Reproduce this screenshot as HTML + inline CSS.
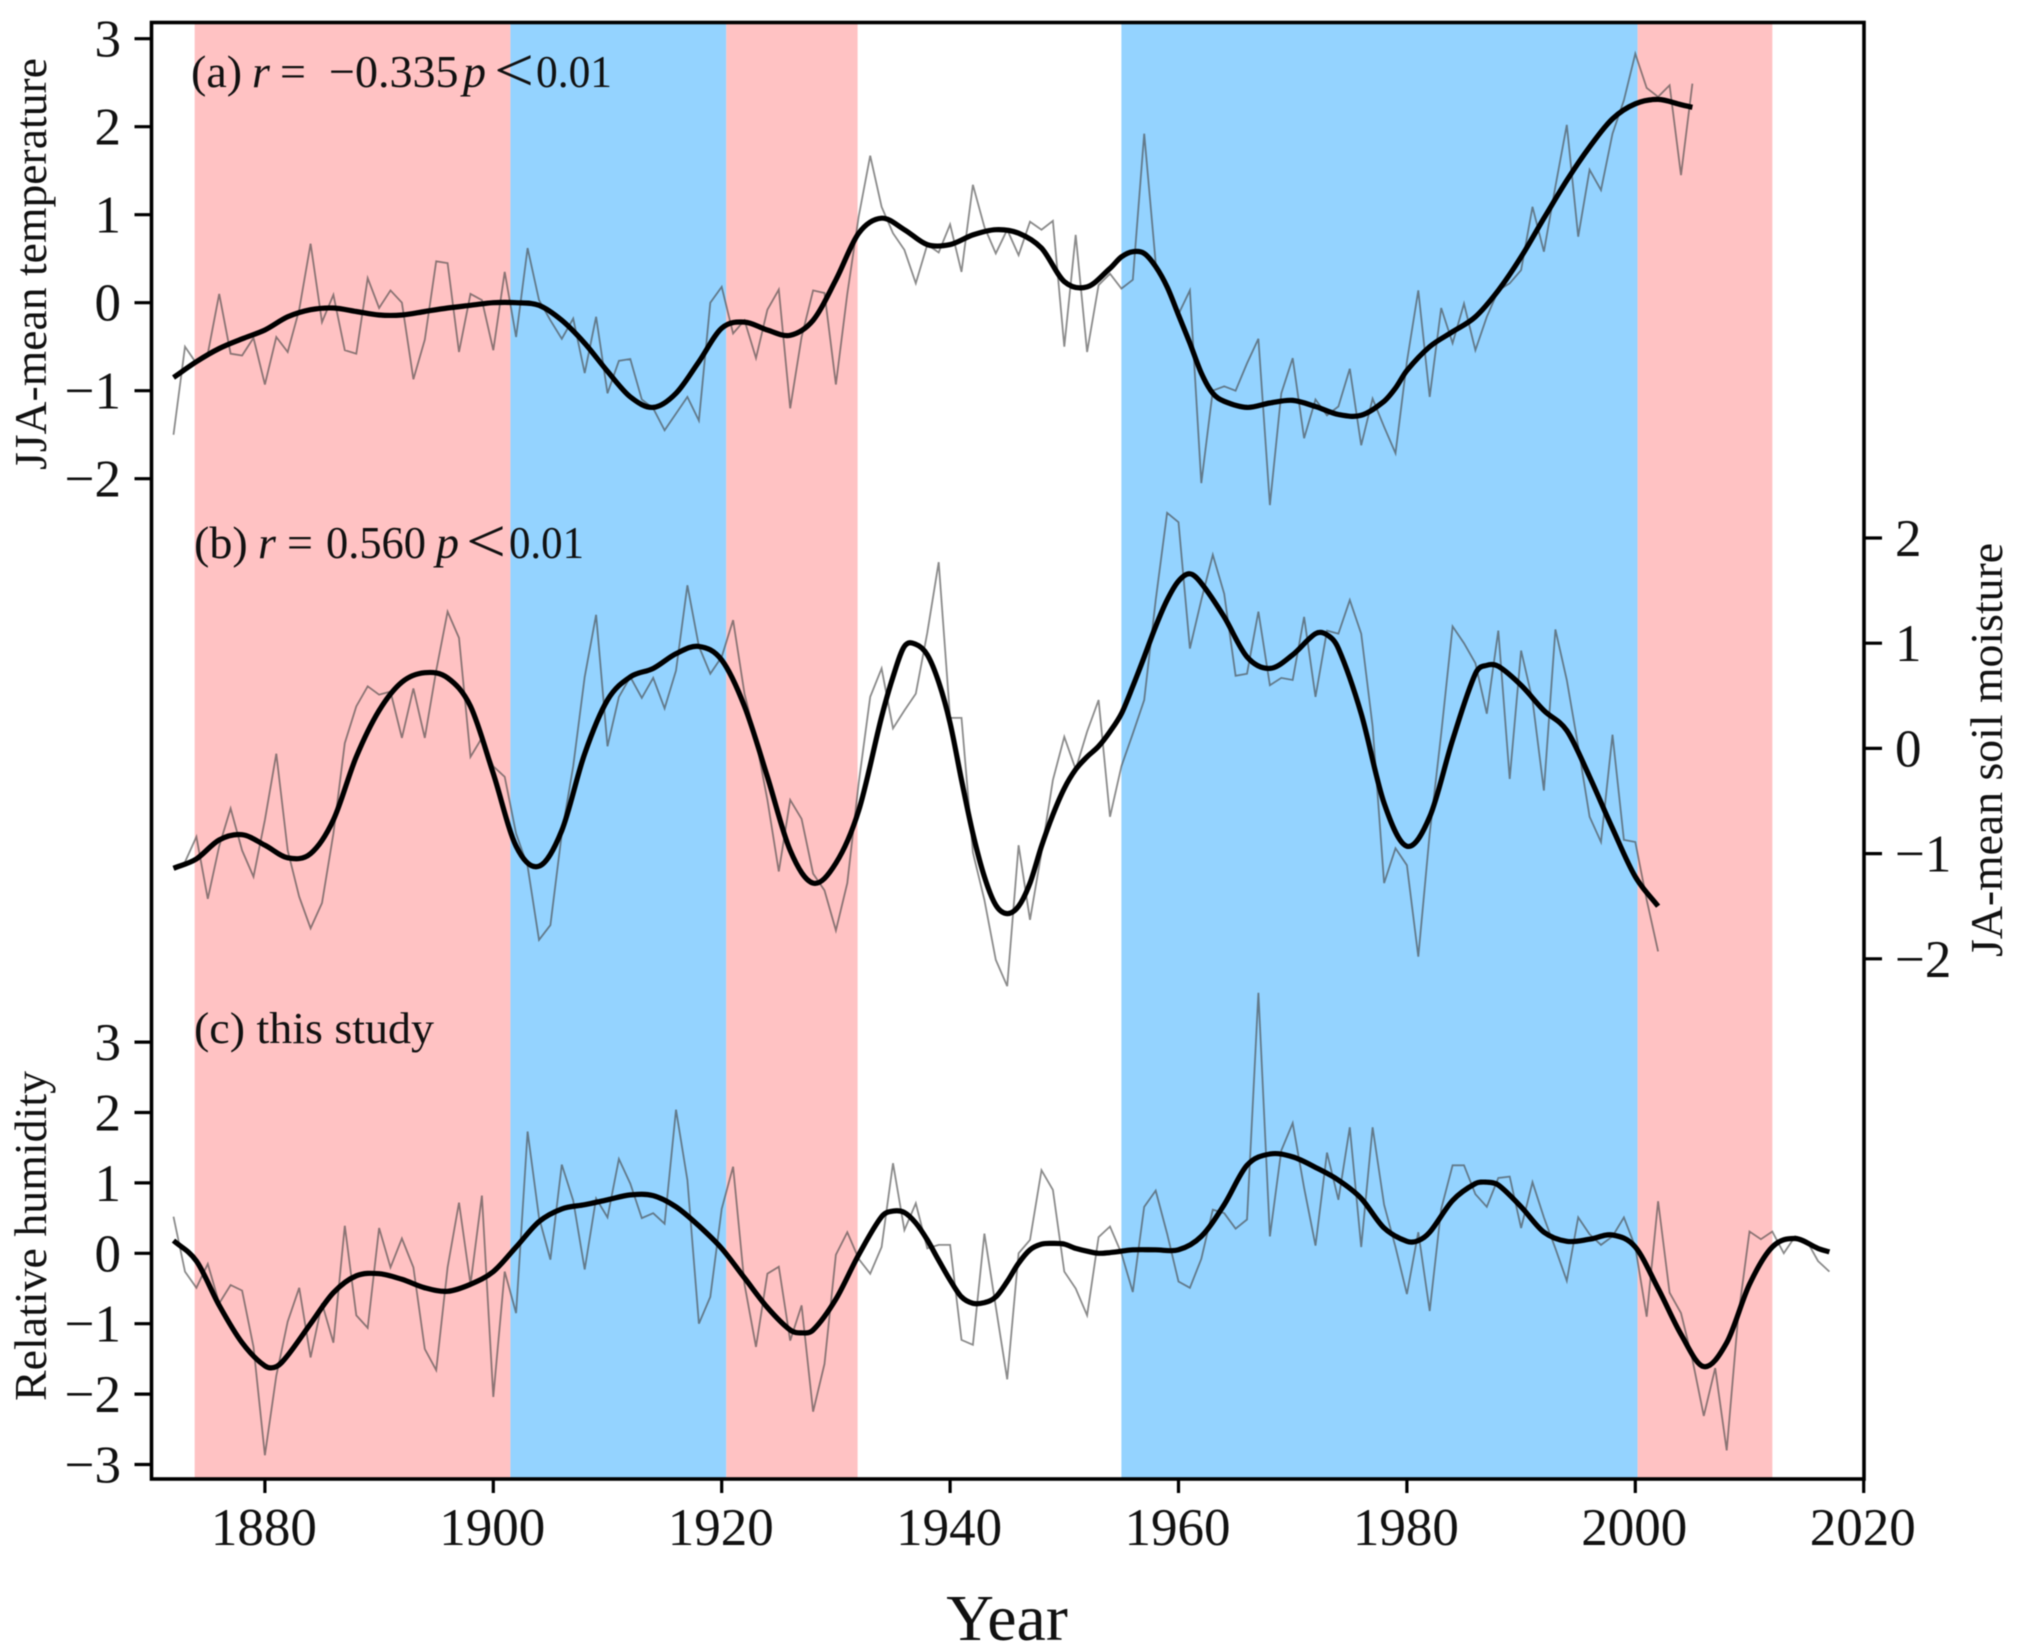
<!DOCTYPE html>
<html lang="en">
<head>
<meta charset="utf-8">
<title>JJA temperature, soil moisture and relative humidity</title>
<style>
html,body{margin:0;padding:0;background:#fff;}
svg{display:block;font-family:"Liberation Serif","Times New Roman",serif;filter:blur(0.6px);}
</style>
</head>
<body>
<svg id="chart" xmlns="http://www.w3.org/2000/svg" width="2019" height="1652" viewBox="0 0 2019 1652">
  <rect x="0" y="0" width="2019" height="1652" fill="#fff"/>
  <g id="bands"></g>
  <g id="series"></g>
  <g id="axes"></g>
  <g id="annotations" fill="#111">
    <text y="87" font-size="46"><tspan x="191">(a)</tspan><tspan x="252" font-style="italic">r</tspan><tspan x="280">=</tspan><tspan x="329">−0.335</tspan><tspan x="463" font-style="italic">p</tspan><tspan x="494" font-size="62" y="91" textLength="40" lengthAdjust="spacingAndGlyphs">&lt;</tspan><tspan x="536" y="87" textLength="76" lengthAdjust="spacingAndGlyphs">0.01</tspan></text>
    <text y="558" font-size="46"><tspan x="194">(b)</tspan><tspan x="258" font-style="italic">r</tspan><tspan x="287">=</tspan><tspan x="326" textLength="100" lengthAdjust="spacingAndGlyphs">0.560</tspan><tspan x="436" font-style="italic">p</tspan><tspan x="466" font-size="62" y="562" textLength="40" lengthAdjust="spacingAndGlyphs">&lt;</tspan><tspan x="509" y="558" textLength="75" lengthAdjust="spacingAndGlyphs">0.01</tspan></text>
    <text x="194" y="1043" font-size="44" textLength="240" lengthAdjust="spacingAndGlyphs">(c) this study</text>
    <text transform="translate(46 264) rotate(-90)" text-anchor="middle" font-size="45" textLength="412" lengthAdjust="spacingAndGlyphs">JJA-mean temperature</text>
    <text transform="translate(46 1236) rotate(-90)" text-anchor="middle" font-size="45" textLength="330" lengthAdjust="spacingAndGlyphs">Relative humidity</text>
    <text transform="translate(2002 750) rotate(-90)" text-anchor="middle" font-size="45" textLength="414" lengthAdjust="spacingAndGlyphs">JA-mean soil moisture</text>
    <text x="1007" y="1640" text-anchor="middle" font-size="66">Year</text>
  </g>
</svg>
<script>
/* ---------- data ---------- */
const tempStartYear = 1872;
const tempAnnual = [
  -1.5,-.5,-.69,-.58,.1,-.58,-.6,-.4,
  -.93,-.39,-.56,-.08,.67,-.22,.09,-.54,-.58,.28,
  -.06,.14,0,-.87,-.42,.47,.45,-.56,.1,.03,
  -.54,.35,-.39,.62,.03,-.2,-.41,-.18,-.8,-.16,
  -1.03,-.66,-.64,-1.1,-1.2,-1.45,-1.26,-1.07,-1.34,0,
  .18,-.35,-.2,-.63,-.08,.15,-1.2,-.39,.14,.11,
  -.93,.1,.98,1.67,1.09,.79,.6,.22,.66,.57,
  .89,.35,1.34,.86,.56,.83,.54,.92,.83,.93,
  -.5,.77,-.56,.2,.33,.16,.26,1.92,.45,.15,
  -.13,.14,-2.05,-1,-.95,-1,-.69,-.41,-2.3,-1.03,
  -.63,-1.54,-1.1,-1.28,-1.18,-.75,-1.62,-1.09,-1.41,-1.71,
  -.67,.14,-1.07,-.06,-.46,-.01,-.54,-.16,.14,.22,
  .37,1.09,.58,1.32,2.02,.75,1.51,1.28,1.92,2.3,
  2.83,2.44,2.34,2.47,1.45,2.49
];
const tempSmoothYears = [1872,1874,1876,1878,1880,1882,1884,1886,1888,1890,1892,1894,1896,1898,1900,1902,1904,1906,1908,1910,1912,1914,1916,1918,1920,1922,1924,1926,1928,1930,1932,1934,1936,1938,1940,1942,1944,1946,1948,1950,1952,1954,1955,1956,1957,1958,1959,1960,1961,1962,1963,1964,1966,1968,1970,1972,1974,1976,1978,1979,1980,1982,1984,1986,1988,1990,1992,1994,1996,1998,2000,2002,2004,2005];
const tempSmooth = [-.85,-.67,-.52,-.41,-.31,-.16,-.08,-.06,-.1,-.14,-.14,-.1,-.06,-.03,0,0,-.03,-.2,-.46,-.78,-1.07,-1.19,-1.03,-.67,-.29,-.22,-.31,-.37,-.2,.26,.79,.96,.83,.66,.66,.77,.83,.79,.62,.24,.18,.39,.52,.58,.56,.41,.18,-.14,-.46,-.8,-1.03,-1.12,-1.19,-1.14,-1.11,-1.18,-1.27,-1.28,-1.12,-.97,-.77,-.5,-.33,-.16,.14,.52,.96,1.39,1.77,2.09,2.26,2.31,2.25,2.22];

const soilStartYear = 1872;
const soilAnnual = [
  -1.14,-1.08,-.84,-1.43,-.93,-.57,-.97,-1.22,
  -.68,-.05,-.97,-1.41,-1.71,-1.47,-.81,.05,.4,.59,
  .51,.54,.1,.57,.1,.74,1.3,1.05,-.08,.1,
  -.17,-.27,-.81,-1.12,-1.82,-1.68,-.81,-.17,.68,1.27,
  .02,.49,.68,.48,.67,.38,.74,1.55,.97,.71,
  .87,1.22,.52,.08,-.49,-1.17,-.49,-.67,-1.19,-1.35,
  -1.73,-1.28,-.33,.49,.76,.19,.36,.52,1.1,1.77,
  .29,.29,-.99,-1.44,-2.01,-2.26,-.92,-1.63,-.99,-.3,
  .11,-.2,.16,.46,-.65,-.17,.14,.46,1.41,2.24,
  2.15,.95,1.41,1.84,1.47,.69,.71,1.3,.6,.67,
  .65,1.25,.49,1.12,1.09,1.41,1.09,.21,-1.28,-.95,
  -1.11,-1.98,-.81,.14,1.16,1,.81,.33,1.12,-.29,
  .93,.46,-.4,1.13,.65,.02,-.65,-.89,.13,-.87,
  -.89,-1.44,-1.93
];
const soilSmoothYears = [1872,1874,1876,1878,1880,1882,1884,1886,1888,1890,1892,1894,1896,1898,1900,1902,1904,1906,1908,1910,1912,1914,1916,1918,1920,1922,1924,1926,1928,1930,1932,1934,1935,1936,1937,1938,1939,1940,1941,1942,1943,1944,1945,1946,1947,1948,1949,1950,1951,1952,1953,1954,1955,1956,1957,1958,1959,1960,1961,1962,1964,1966,1968,1970,1972,1973,1974,1976,1978,1980,1982,1984,1986,1987,1988,1990,1992,1994,1996,1998,2000,2002];
const soilSmooth = [-1.14,-1.05,-.87,-.82,-.92,-1.04,-1,-.68,-.08,.36,.63,.72,.67,.4,-.24,-.93,-1.12,-.78,-.05,.46,.68,.76,.9,.97,.84,.4,-.27,-.97,-1.28,-1.09,-.59,.3,.68,.97,.99,.89,.63,.24,-.3,-.81,-1.22,-1.49,-1.57,-1.5,-1.28,-.93,-.63,-.38,-.2,-.08,.02,.16,.33,.59,.87,1.16,1.41,1.59,1.66,1.57,1.25,.87,.76,.89,1.09,1.08,.95,.33,-.52,-.93,-.65,.08,.71,.79,.78,.6,.36,.17,-.27,-.76,-1.22,-1.5];

const humidityStartYear = 1872;
const humidityAnnual = [
  .52,-.26,-.49,-.15,-.71,-.45,-.53,-1.33,
  -2.87,-1.74,-.97,-.49,-1.48,-.71,-1.27,.39,-.88,-1.06,
  .36,-.2,.21,-.2,-1.36,-1.66,-.2,.72,-.44,.82,
  -2.04,-.26,-.85,1.73,.51,-.09,1.26,.75,-.23,.78,
  .51,1.34,.99,.5,.57,.42,2.04,1.04,-1,-.62,
  .63,1.23,-.44,-1.33,-.29,-.19,-1.24,-.74,-2.25,-1.57,
  -.02,.3,-.08,-.29,.09,1.28,.33,.71,.07,.12,
  .12,-1.23,-1.3,.28,-.76,-1.79,0,.19,1.18,.9,
  -.26,-.5,-.88,.23,.38,0,-.55,.66,.89,.28,
  -.4,-.49,-.08,.62,.57,.35,.48,3.7,.24,1.46,
  1.85,.93,.11,1.43,.76,1.79,.09,1.79,.69,.09,
  -.58,.3,-.82,.63,1.25,1.25,.84,.66,1.07,1.09,
  .36,1.01,.51,.07,-.39,.51,.27,.12,.24,.51,
  .09,-.9,.74,-.56,-.85,-1.51,-2.31,-1.63,-2.8,-.91,
  .31,.2,.31,0,.24,.18,-.11,-.26
];
const humiditySmoothYears = [1872,1874,1876,1878,1880,1881,1882,1884,1886,1888,1890,1892,1894,1896,1898,1900,1902,1904,1906,1908,1910,1912,1914,1916,1918,1920,1922,1924,1926,1927,1928,1930,1932,1934,1935,1936,1937,1938,1939,1940,1941,1942,1943,1944,1945,1946,1947,1948,1949,1950,1951,1952,1953,1954,1955,1956,1958,1960,1962,1964,1966,1968,1970,1972,1974,1976,1978,1980,1981,1982,1984,1986,1987,1988,1990,1992,1994,1996,1998,2000,2002,2004,2006,2008,2010,2012,2014,2016,2017];
const humiditySmooth = [.18,-.11,-.74,-1.27,-1.6,-1.61,-1.45,-1,-.56,-.32,-.29,-.37,-.49,-.54,-.44,-.26,.09,.45,.63,.69,.76,.83,.82,.66,.39,.07,-.35,-.77,-1.09,-1.13,-1.09,-.65,-.02,.52,.6,.58,.43,.19,-.1,-.38,-.62,-.71,-.7,-.62,-.4,-.14,.05,.13,.14,.13,.07,.03,0,.01,.03,.05,.05,.05,.24,.69,1.25,1.41,1.37,1.22,1.04,.78,.36,.17,.18,.3,.75,.99,1.01,.97,.66,.3,.17,.2,.26,.09,-.5,-1.15,-1.61,-1.27,-.44,.09,.21,.07,.02];

const bandStarts = [1873.85,1901.5,1920.4,1955,2000.2];
const bandEnds = [1901.5,1920.4,1931.9,2000.2,2012];
const bandKinds = ["pink","blue","pink","blue","pink"];

const xTickYears = [1880,1900,1920,1940,1960,1980,2000,2020];
const tempTicks = [3,2,1,0,-1,-2];
const soilTicks = [2,1,0,-1,-2];
const humidityTicks = [3,2,1,0,-1,-2,-3];

/* ---------- axis functions ---------- */
const NS = "http://www.w3.org/2000/svg";
const frame = {left:151.5, right:1864, top:22.5, bottom:1479};
function xScale(year){ return 264.9 + (year - 1880) * 11.42; }
function yTemp(v){ return 302.7 - 88 * v; }
function ySoil(v){ return 748.4 - 105.2 * v; }
function yHumidity(v){ return 1253.3 - 70.4 * v; }
function label(v){ return (v < 0 ? "\u2212" + Math.abs(v) : String(v)); }
function make(tag, parent){
  const el = document.createElementNS(NS, tag);
  parent.appendChild(el);
  return el;
}
/* cubic Hermite through the points, tangents from neighbouring slopes */
function curvePath(years, vals, yFn){
  const p = years.map((yr, i) => [xScale(yr), yFn(vals[i])]);
  const n = p.length;
  const m = p.map((pt, i) => {
    if (i === 0) return (p[1][1] - p[0][1]) / (p[1][0] - p[0][0]);
    if (i === n - 1) return (p[n-1][1] - p[n-2][1]) / (p[n-1][0] - p[n-2][0]);
    return (p[i+1][1] - p[i-1][1]) / (p[i+1][0] - p[i-1][0]);
  });
  let d = "M" + p[0][0].toFixed(1) + " " + p[0][1].toFixed(1);
  for (let i = 0; i < n - 1; i++) {
    const dx = (p[i+1][0] - p[i][0]) / 3;
    d += "C" + (p[i][0] + dx).toFixed(1) + " " + (p[i][1] + m[i] * dx).toFixed(1) + " " +
         (p[i+1][0] - dx).toFixed(1) + " " + (p[i+1][1] - m[i+1] * dx).toFixed(1) + " " +
         p[i+1][0].toFixed(1) + " " + p[i+1][1].toFixed(1);
  }
  return d;
}
function polyPath(start, vals, yFn){
  return vals.map((v, i) => (i ? "L" : "M") + xScale(start + i).toFixed(1) + " " + yFn(v).toFixed(1)).join("");
}

/* ---------- bands ---------- */
const bandsG = document.getElementById("bands");
const bandColors = {pink:"#FFC2C3", blue:"#94D3FF"};
bandStarts.forEach((s, i) => {
  const r = make("rect", bandsG);
  r.setAttribute("x", xScale(s));
  r.setAttribute("y", frame.top);
  r.setAttribute("width", xScale(bandEnds[i]) - xScale(s));
  r.setAttribute("height", frame.bottom - frame.top);
  r.setAttribute("fill", bandColors[bandKinds[i]]);
  
  
});

/* ---------- series ---------- */
const seriesG = document.getElementById("series");
function drawThin(start, vals, yFn, name){
  const p = make("path", seriesG);
  p.setAttribute("d", polyPath(start, vals, yFn));
  p.setAttribute("fill", "none");
  p.setAttribute("stroke", "#444");
  p.setAttribute("stroke-opacity", "0.62");
  p.setAttribute("stroke-width", "1.8");
  p.setAttribute("stroke-linejoin", "miter");
  
  
}
function drawSmooth(years, vals, yFn, name){
  const p = make("path", seriesG);
  p.setAttribute("d", curvePath(years, vals, yFn));
  p.setAttribute("fill", "none");
  p.setAttribute("stroke", "#000");
  p.setAttribute("stroke-width", "5.2");
  
  
}
drawThin(tempStartYear, tempAnnual, yTemp, "temperature-annual-line");
drawThin(soilStartYear, soilAnnual, ySoil, "soil-moisture-annual-line");
drawThin(humidityStartYear, humidityAnnual, yHumidity, "humidity-annual-line");
drawSmooth(tempSmoothYears, tempSmooth, yTemp, "temperature-smoothed-line");
drawSmooth(soilSmoothYears, soilSmooth, ySoil, "soil-moisture-smoothed-line");
drawSmooth(humiditySmoothYears, humiditySmooth, yHumidity, "humidity-smoothed-line");

/* ---------- axes ---------- */
const axesG = document.getElementById("axes");
const spine = make("rect", axesG);
spine.setAttribute("x", frame.left);
spine.setAttribute("y", frame.top);
spine.setAttribute("width", frame.right - frame.left);
spine.setAttribute("height", frame.bottom - frame.top);
spine.setAttribute("fill", "none");
spine.setAttribute("stroke", "#000");
spine.setAttribute("stroke-width", "3.6");



function tick(x1, y1, x2, y2, name){
  const l = make("line", axesG);
  l.setAttribute("x1", x1);
  l.setAttribute("y1", y1);
  l.setAttribute("x2", x2);
  l.setAttribute("y2", y2);
  l.setAttribute("stroke", "#000");
  l.setAttribute("stroke-width", "3.2");
  
  
}
function tickText(x, y, str, anchor, name){
  const t = make("text", axesG);
  t.setAttribute("x", x);
  t.setAttribute("y", y);
  t.setAttribute("font-size", "53");
  t.setAttribute("fill", "#111");
  t.setAttribute("text-anchor", anchor);
  t.textContent = str;
  
  
}
xTickYears.forEach(yr => {
  tick(xScale(yr), frame.bottom, xScale(yr), frame.bottom + 14, "x-tick-" + yr);
  tickText(xScale(yr) - 1, 1545, String(yr), "middle", "x-tick-label-" + yr);
});
tempTicks.forEach(v => {
  tick(frame.left - 17, yTemp(v), frame.left, yTemp(v), "temperature-y-tick");
  tickText(121, yTemp(v) + 18, label(v), "end", "temperature-y-tick-label");
});
soilTicks.forEach(v => {
  tick(frame.right, ySoil(v), frame.right + 18, ySoil(v), "soil-moisture-y-tick");
  tickText(1895, ySoil(v) + 18, label(v), "start", "soil-moisture-y-tick-label");
});
humidityTicks.forEach(v => {
  tick(frame.left - 17, yHumidity(v), frame.left, yHumidity(v), "humidity-y-tick");
  tickText(121, yHumidity(v) + 18, label(v), "end", "humidity-y-tick-label");
});
</script>
</body>
</html>
